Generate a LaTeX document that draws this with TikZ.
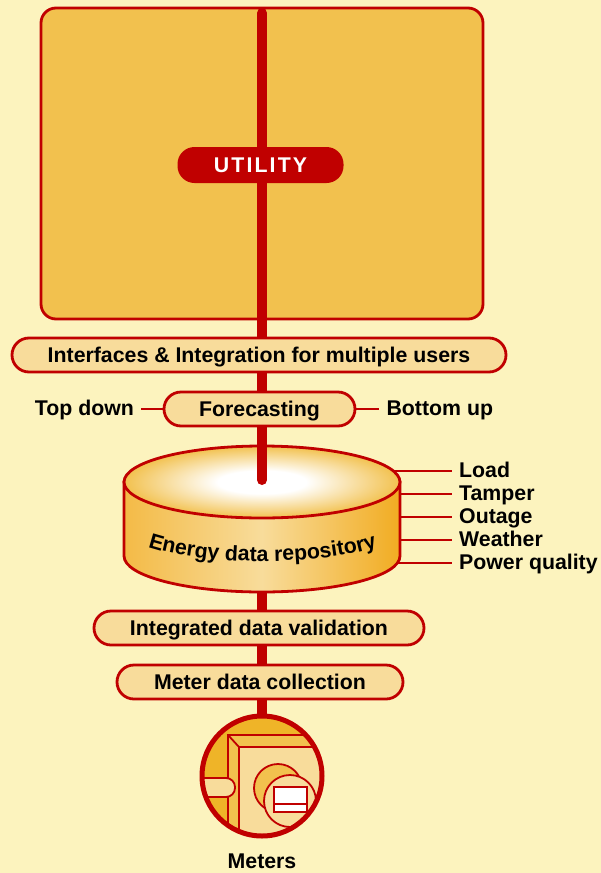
\documentclass[tikz,border=0pt]{standalone}
\usepackage{fontspec}
\setmainfont{Liberation Sans}
\usepackage{xcolor}
\usetikzlibrary{positioning, calc, decorations.text}
\definecolor{paper}{HTML}{FCF3BE}
\definecolor{utilred}{HTML}{C00000}
\definecolor{boxfill}{HTML}{F2C14E}
\definecolor{pillfill}{HTML}{F8DC9B}
\definecolor{meterfill}{HTML}{EFB428}
\pgfdeclareradialshading{diskglow}{\pgfpoint{0bp}{0bp}}{color(0bp)=(white); color(8bp)=(white); color(25bp)=(boxfill); color(50bp)=(boxfill)}

\begin{document}
\begin{tikzpicture}[
        x=1pt, y=-1pt,
        every node/.style={font=\fontsize{21.3}{24}\selectfont\bfseries, text=black},
        pill/.style={rectangle, rounded corners=17pt, draw=utilred, line width=2.8pt, fill=pillfill, minimum height=34pt, inner sep=0pt, text height=15pt, text depth=1pt},
        sidelabel/.style={inner sep=0pt, text height=15pt, text depth=2pt},
        redline/.style={draw=utilred, line width=2.8pt},
        trunk/.style={draw=utilred, line width=10pt}
    ]
        \useasboundingbox[fill=paper] (0,0) rectangle (601,873);

        % Utility box
        \draw[redline, fill=boxfill, rounded corners=15pt] (41,8) rectangle (483,319);

        \coordinate (boxtop) at (262,13);
        \coordinate (diskcentre) at (262,480);
        \coordinate (diskbase) at (262,590);
        \coordinate (metertop) at (262,720);

        % Lower trunk goes behind the disk
        \draw[trunk] (diskbase) -- (metertop);

        % Disk
        \draw[redline, left color=boxfill!90!orange, right color=meterfill!85!orange, middle color=pillfill]
            (124,482) -- (124,556) .. controls (124,576) and (186,592) .. (262,592) .. controls (338,592) and (400,576) .. (400,556) -- (400,482) -- cycle;
        \draw[redline, shading=diskglow] (262,482) ellipse[x radius=138, y radius=36];
        \path[decorate, decoration={text along path, text align=center, text={|\fontsize{21.3}{24}\selectfont\bfseries|Energy data repository}}]
            (148,547) .. controls (205,566) and (320,566) .. (377,547);

        % Upper trunk
        \draw[trunk, line cap=round] (boxtop) -- (diskcentre);

        % Bands across the trunk
        \node[pill, minimum width=494pt] (interfaces) at (259,355) {Interfaces \& Integration for multiple users};
        \node[pill, minimum width=191pt] (forecasting) at (259.5,409) {Forecasting};
        \node[pill, minimum width=330pt] (validation) at (259,628) {Integrated data validation};
        \node[pill, minimum width=286pt] (collection) at (260,682) {Meter data collection};
        \node[rectangle, rounded corners=17pt, fill=utilred, minimum width=166pt, minimum height=36pt, inner sep=0pt, text=white, text height=15pt, text depth=1pt] (utility) at (260.5,165) {\addfontfeature{LetterSpace=10}UTILITY};

        % Top down and bottom up
        \node[sidelabel, left=28.5pt of forecasting] (topdown) {Top down};
        \node[sidelabel, right=30pt of forecasting] (bottomup) {Bottom up};
        \draw[redline] (forecasting) -- ($(topdown.east)+(7,0)$);
        \draw[redline] (forecasting) -- ($(bottomup.west)+(-7,0)$);

        % Repository feeds
        \foreach \name/\xpos/\ypos/\txt in {load/393/471/Load, tamper/400/494/Tamper, outage/400/517/Outage, weather/400/540/Weather, quality/398/563/Power quality} {
            \coordinate (disk\name) at (\xpos,\ypos);
            \node[sidelabel, anchor=west] (\name) at (459,\ypos) {\txt};
            \draw[redline] (disk\name) -- ($(\name.west)+(-7,0)$);
        }

        % Meter
        \begin{scope}
            \clip (262,776) circle[radius=60];
            \fill[meterfill] (262,776) circle[radius=60];
            \draw[redline, line width=1.8pt, fill=boxfill] (228,735) -- (330,735) -- (330,860) -- (228,860) -- cycle;
            \draw[redline, line width=1.8pt, fill=pillfill] (239,747) -- (330,747) -- (330,860) -- (239,860) -- cycle;
            \draw[redline, line width=1.8pt] (228,735) -- (239,747);
            \draw[redline, line width=1.8pt, fill=pillfill, rounded corners=9pt] (190,778) -- (235,778) -- (235,797) -- (190,797);
            \draw[redline, line width=1.8pt, fill=boxfill] (278,788) circle[radius=24];
            \draw[redline, line width=1.8pt, fill=pillfill] (290,801) circle[radius=26];
            \draw[redline, line width=1.8pt, fill=white] (274,787) rectangle (307,812);
            \draw[redline, line width=1.8pt] (274,804) -- (307,804);
        \end{scope}
        \draw[draw=utilred, line width=5pt] (262,776) circle[radius=60];
        \node (meters) at (262,861) {Meters};
    \end{tikzpicture}
\end{document}
